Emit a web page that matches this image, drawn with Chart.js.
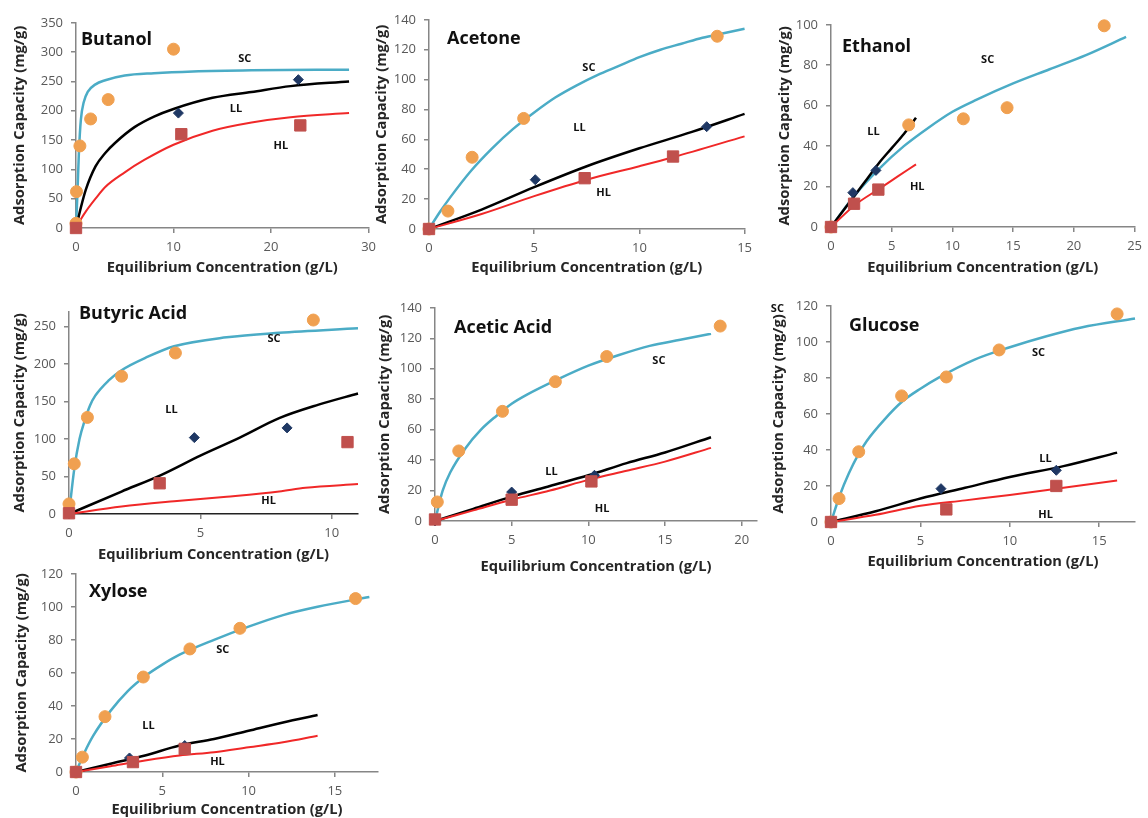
<!DOCTYPE html>
<html>
<head>
<meta charset="utf-8">
<script src="https://cdn.jsdelivr.net/npm/chart.js@4.4.1/dist/chart.umd.min.js"></script>
<style>
  html, body { margin: 0; padding: 0; background: #fff; overflow: hidden; width: 1148px; height: 818px; }
  canvas { position: absolute; }
</style>
</head>
<body>
<script>
"use strict";

// Butanol
var butanolScPts = [[0, 8], [0.05, 62], [0.4, 140], [1.5, 186], [3.3, 219], [10, 305]];
var butanolScFit = [[0, 0], [0.15, 60], [0.3, 130], [0.5, 185], [0.8, 215], [1.2, 232], [2, 245], [3, 252], [5, 260], [8, 264], [12, 267], [18, 269], [28, 270]];
var butanolLlPts = [[0, 0], [10.5, 196], [22.8, 253]];
var butanolLlFit = [[0, 0], [0.5, 35], [1, 65], [2, 105], [3, 128], [4, 145], [6, 172], [8, 190], [10, 203], [14, 222], [18, 232], [22, 242], [28, 250]];
var butanolHlPts = [[0, 0], [10.8, 160], [23, 175]];
var butanolHlFit = [[0, 0], [0.5, 15], [1, 28], [2, 50], [3, 70], [5, 95], [7, 116], [10, 142], [14, 166], [18, 180], [22, 189], [28, 196]];

// Acetone
var acetoneScPts = [[0, 0], [0.9, 12], [2.05, 48], [4.5, 74], [13.7, 129]];
var acetoneScFit = [[0, 0], [0.5, 11], [1, 21], [2, 39], [3, 54], [4, 67], [5, 78], [6, 88], [7, 96], [8, 103], [9, 109], [10, 115], [11, 120], [12, 124], [13, 128], [14, 131], [15, 134]];
var acetoneLlPts = [[0, 0], [5.05, 33], [13.2, 68.5]];
var acetoneLlFit = [[0, 0], [2.5, 13], [5, 28], [7.5, 42], [10, 54], [12.5, 65], [15, 77]];
var acetoneHlPts = [[0, 0], [7.4, 34], [11.6, 48.5]];
var acetoneHlFit = [[0, 0], [2.5, 10], [5, 22], [7.5, 33], [10, 42], [11.6, 48], [15, 62]];

// Ethanol
var ethanolScPts = [[0, 0], [6.4, 50.5], [10.9, 53.5], [14.5, 59], [22.5, 99.5]];
var ethanolScFit = [[0, 0], [2, 16], [4, 29], [6, 40], [8, 49], [10, 57], [12, 63], [15, 71], [18, 78], [21, 85], [24.3, 94]];
var ethanolLlPts = [[0, 0], [1.8, 17], [3.7, 28]];
var ethanolLlFit = [[0, 0], [1, 8], [2, 16], [3, 24], [4, 32], [5, 39], [6, 46], [7, 54]];
var ethanolHlPts = [[0, 0], [1.9, 11.5], [3.9, 18.5]];
var ethanolHlFit = [[0, 0], [2, 11], [4, 19], [5.5, 25], [7, 31]];

// Butyric Acid
var butyricScPts = [[0, 13.5], [0.2, 67], [0.7, 129], [2, 184], [4.05, 215], [9.3, 259]];
var butyricScFit = [[0, 0], [0.2, 60], [0.4, 100], [0.6, 125], [0.8, 145], [1, 158], [1.5, 178], [2, 192], [3, 210], [4, 224], [6, 236], [8, 242], [11, 248]];
var butyricLlPts = [[0, 0], [4.77, 102], [8.3, 115]];
var butyricLlFit = [[0, 0], [2, 30], [3.5, 52], [5, 78], [6.5, 102], [8, 128], [9.5, 146], [11, 161]];
var butyricHlPts = [[0, 1], [3.45, 41], [10.6, 96]];
var butyricHlFit = [[0, 0], [2, 10], [4, 17], [6, 23], [8, 30], [9, 35], [11, 40]];

// Acetic Acid
var aceticScPts = [[0.15, 12.5], [1.55, 46], [4.4, 72], [7.85, 91.5], [11.2, 108], [18.6, 128]];
var aceticScFit = [[0, 0], [0.5, 20], [1, 32], [2, 48], [3, 60], [4, 69], [5, 77], [6, 83], [8, 93], [10, 102], [12, 109], [14, 115], [16, 119], [18, 123]];
var aceticLlPts = [[0, 0], [5, 19], [10.4, 30]];
var aceticLlFit = [[0, 0], [2.5, 8], [5, 16], [7.5, 23], [10, 30], [12.5, 38], [15, 45], [18, 55]];
var aceticHlPts = [[0, 1], [5, 14], [10.2, 26]];
var aceticHlFit = [[0, 0], [2.5, 7], [5, 14], [7.5, 20], [10, 27], [12.5, 33], [15, 39], [18, 48]];

// Glucose
var glucoseScPts = [[0, 0], [0.45, 13], [1.55, 39], [3.95, 70], [6.45, 80.5], [9.4, 95.5], [16, 115.5]];
var glucoseScFit = [[0, 0], [0.5, 15], [1, 27], [1.5, 37], [2, 45], [3, 57], [4, 67], [5, 74], [6, 80], [8, 90], [10, 97], [12, 103], [14, 108], [17, 113]];
var glucoseLlPts = [[0, 0], [6.15, 18.5], [12.6, 28.7]];
var glucoseLlFit = [[0, 0], [2.5, 6], [5, 13], [7.5, 19], [10, 25], [13, 31], [16, 38.5]];
var glucoseHlPts = [[0, 0], [6.45, 7], [12.6, 20]];
var glucoseHlFit = [[0, 0], [2.5, 4], [5, 9], [7.5, 12], [10, 15], [13, 19], [16, 23]];

// Xylose
var xyloseScPts = [[0, 0], [0.37, 9], [1.68, 33.5], [3.9, 57.5], [6.6, 74.5], [9.5, 87], [16.2, 105]];
var xyloseScFit = [[0, 0], [0.5, 12], [1, 22], [2, 37], [3, 49], [4, 58], [5, 65], [6, 71], [8, 80], [10, 88], [12, 95], [14, 100], [17, 106]];
var xyloseLlPts = [[0, 0], [3.1, 8.5], [6.3, 16]];
var xyloseLlFit = [[0, 0], [2, 5], [4, 10], [6, 16], [8, 20], [10, 25], [12, 30], [14, 34.5]];
var xyloseHlPts = [[0, 0], [3.3, 6], [6.3, 14]];
var xyloseHlFit = [[0, 0], [2, 3.5], [4, 7], [6, 10], [8, 12], [10, 15], [12, 18], [14, 22]];

var FONT = "'Open Sans', sans-serif";
var TITLE_SIZE = 14.7;
var TITLE_LH = TITLE_SIZE * 1.2;
var AXIS_GRAY = '#868686';

var C_SC_LINE = '#4BACC6';
var C_SC_PT = '#F0A050';
var C_LL_LINE = '#000000';
var C_LL_PT = '#1F3864';
var C_HL_LINE = '#F02828';
var C_HL_PT = '#C0504D';

// text labels (SC / LL / HL, panel name)
var panelText = {
  id: 'panelText',
  afterDraw: function(chart, args, opts) {
    var ctx = chart.ctx, xs = chart.scales.x, ys = chart.scales.y, area = chart.chartArea;
    ctx.save();
    ctx.textBaseline = 'middle';
    ctx.fillStyle = '#111';
    ctx.textAlign = 'left';
    ctx.font = 'bold 18px ' + FONT;
    ctx.fillText(opts.title, area.left + opts.titleDx, area.top + opts.titleDy);
    ctx.textAlign = 'center';
    ctx.font = 'bold 11px ' + FONT;
    opts.labels.forEach(function(l) {
      ctx.fillText(l.text, xs.getPixelForValue(l.x), ys.getPixelForValue(l.y));
    });
    ctx.restore();
  }
};

function xy(pts) {
  return pts.map(function(p) { return { x: p[0], y: p[1] }; });
}

// tick values every `step` from 0 up to max (max itself only if it is a multiple)
function stepTicks(step) {
  return function(s) {
    var out = [];
    for (var v = 0; v <= s.max + 1e-9; v += step) out.push({ value: v });
    s.ticks = out;
  };
}

function fitSet(pts, color, width, order) {
  return {
    data: xy(pts), showLine: true, borderColor: color, borderWidth: width,
    pointRadius: 0, cubicInterpolationMode: 'monotone', fill: false, order: order, clip: false
  };
}

function ptSet(pts, style, radius, color, order) {
  return {
    data: xy(pts), showLine: false, pointStyle: style, pointRadius: radius,
    backgroundColor: color, borderColor: color, borderWidth: 1, order: order, clip: false
  };
}

function makePanel(p) {
  var padT = 12, padR = 10;
  var left = Math.round(p.yTitleX - TITLE_LH / 2);
  var top = p.area[1] - padT;
  var bottom = Math.round(p.xTitleY + TITLE_LH / 2);
  var right = p.area[2] + padR;
  var yW = p.area[0] - left;
  var xH = bottom - p.area[3];

  var cv = document.createElement('canvas');
  cv.width = right - left;
  cv.height = bottom - top;
  cv.style.left = left + 'px';
  cv.style.top = top + 'px';
  document.body.appendChild(cv);

  var tickFont = { family: FONT, size: 13 };
  var titleFont = { family: FONT, size: TITLE_SIZE, weight: 'bold' };

  new Chart(cv.getContext('2d'), {
    type: 'scatter',
    data: {
      datasets: [
        fitSet(p.sc[1], C_SC_LINE, 2.5, 5),
        fitSet(p.ll[1], C_LL_LINE, 2.5, 4),
        fitSet(p.hl[1], C_HL_LINE, 2, 3),
        ptSet(p.ll[0], 'rectRot', 5, C_LL_PT, 2),
        ptSet(p.sc[0], 'circle', 6, C_SC_PT, 1),
        ptSet(p.hl[0], 'rect', 8, C_HL_PT, 0)
      ]
    },
    plugins: [panelText],
    options: {
      responsive: false,
      animation: false,
      layout: { padding: { top: padT, right: padR, left: 0, bottom: 0 } },
      plugins: {
        legend: { display: false },
        tooltip: { enabled: false },
        panelText: { title: p.title, titleDx: p.titleDx, titleDy: p.titleDy, labels: p.labels }
      },
      scales: {
        x: {
          type: 'linear', min: 0, max: p.xMax,
          afterBuildTicks: stepTicks(p.xStep),
          afterFit: function(s) { s.height = xH; },
          ticks: { color: '#595959', font: tickFont, padding: 6, maxRotation: 0, autoSkip: false },
          grid: { drawOnChartArea: false, drawTicks: true, tickLength: 5, color: AXIS_GRAY, lineWidth: 1.5 },
          border: { color: p.xAxisColor || AXIS_GRAY, width: 1.5 },
          title: { display: true, text: 'Equilibrium Concentration (g/L)', color: '#262626', font: titleFont, padding: 0 }
        },
        y: {
          type: 'linear', min: 0, max: p.yMax,
          afterBuildTicks: stepTicks(p.yStep),
          afterFit: function(s) { s.width = yW; },
          ticks: { color: '#595959', font: tickFont, padding: 8, autoSkip: false },
          grid: { drawOnChartArea: false, drawTicks: true, tickLength: 5, color: AXIS_GRAY, lineWidth: 1.5 },
          border: { color: AXIS_GRAY, width: 1.5 },
          title: { display: true, text: 'Adsorption Capacity (mg/g)', color: '#262626', font: titleFont, padding: 0 }
        }
      }
    }
  });
}

var panels = [
  { title: 'Butanol', area: [76, 19, 372, 228], yTitleX: 20, xTitleY: 268, xMax: 30, xStep: 10, yMax: 350, yStep: 50,
    titleDx: 5, titleDy: 17,
    sc: [butanolScPts, butanolScFit], ll: [butanolLlPts, butanolLlFit], hl: [butanolHlPts, butanolHlFit],
    labels: [{ text: 'SC', x: 17.3, y: 288 }, { text: 'LL', x: 16.4, y: 204 }, { text: 'HL', x: 21, y: 140 }] },
  { title: 'Acetone', area: [429, 16, 748, 229], yTitleX: 382, xTitleY: 268, xMax: 15, xStep: 5, yMax: 140, yStep: 20,
    titleDx: 18, titleDy: 19,
    sc: [acetoneScPts, acetoneScFit], ll: [acetoneLlPts, acetoneLlFit], hl: [acetoneHlPts, acetoneHlFit],
    labels: [{ text: 'SC', x: 7.6, y: 108 }, { text: 'LL', x: 7.15, y: 68 }, { text: 'HL', x: 8.3, y: 24 }] },
  { title: 'Ethanol', area: [831, 21, 1138, 227], yTitleX: 785, xTitleY: 268, xMax: 25, xStep: 5, yMax: 100, yStep: 20,
    titleDx: 11, titleDy: 22,
    sc: [ethanolScPts, ethanolScFit], ll: [ethanolLlPts, ethanolLlFit], hl: [ethanolHlPts, ethanolHlFit],
    labels: [{ text: 'SC', x: 12.9, y: 82.5 }, { text: 'LL', x: 3.5, y: 47 }, { text: 'HL', x: 7.1, y: 20 }] },
  { title: 'Butyric Acid', area: [69, 308, 358, 514], yTitleX: 20, xTitleY: 555, xMax: 11, xStep: 5, yMax: 270, yStep: 50,
    titleDx: 10, titleDy: 2, xAxisColor: '#222',
    sc: [butyricScPts, butyricScFit], ll: [butyricLlPts, butyricLlFit], hl: [butyricHlPts, butyricHlFit],
    labels: [{ text: 'SC', x: 7.8, y: 234 }, { text: 'LL', x: 3.9, y: 139 }, { text: 'HL', x: 7.6, y: 18 }] },
  { title: 'Acetic Acid', area: [435, 304, 757, 521], yTitleX: 385, xTitleY: 567, xMax: 21, xStep: 5, yMax: 140, yStep: 20,
    titleDx: 19, titleDy: 20,
    sc: [aceticScPts, aceticScFit], ll: [aceticLlPts, aceticLlFit], hl: [aceticHlPts, aceticHlFit],
    labels: [{ text: 'SC', x: 14.6, y: 105 }, { text: 'LL', x: 7.6, y: 32 }, { text: 'HL', x: 10.9, y: 8 }] },
  { title: 'Glucose', area: [831, 302, 1135, 522], yTitleX: 779, xTitleY: 562, xMax: 17, xStep: 5, yMax: 120, yStep: 20,
    titleDx: 18, titleDy: 20,
    sc: [glucoseScPts, glucoseScFit], ll: [glucoseLlPts, glucoseLlFit], hl: [glucoseHlPts, glucoseHlFit],
    labels: [{ text: 'SC', x: 11.6, y: 94 }, { text: 'LL', x: 12, y: 35 }, { text: 'HL', x: 12, y: 4 }, { text: 'SC', x: -3, y: 118.5 }] },
  { title: 'Xylose', area: [76, 570, 378, 772], yTitleX: 22, xTitleY: 810, xMax: 17.5, xStep: 5, yMax: 120, yStep: 20,
    titleDx: 13, titleDy: 18,
    sc: [xyloseScPts, xyloseScFit], ll: [xyloseLlPts, xyloseLlFit], hl: [xyloseHlPts, xyloseHlFit],
    labels: [{ text: 'SC', x: 8.5, y: 74 }, { text: 'LL', x: 4.2, y: 28 }, { text: 'HL', x: 8.2, y: 6 }] }
];

panels.forEach(makePanel);
</script>
</body>
</html>
